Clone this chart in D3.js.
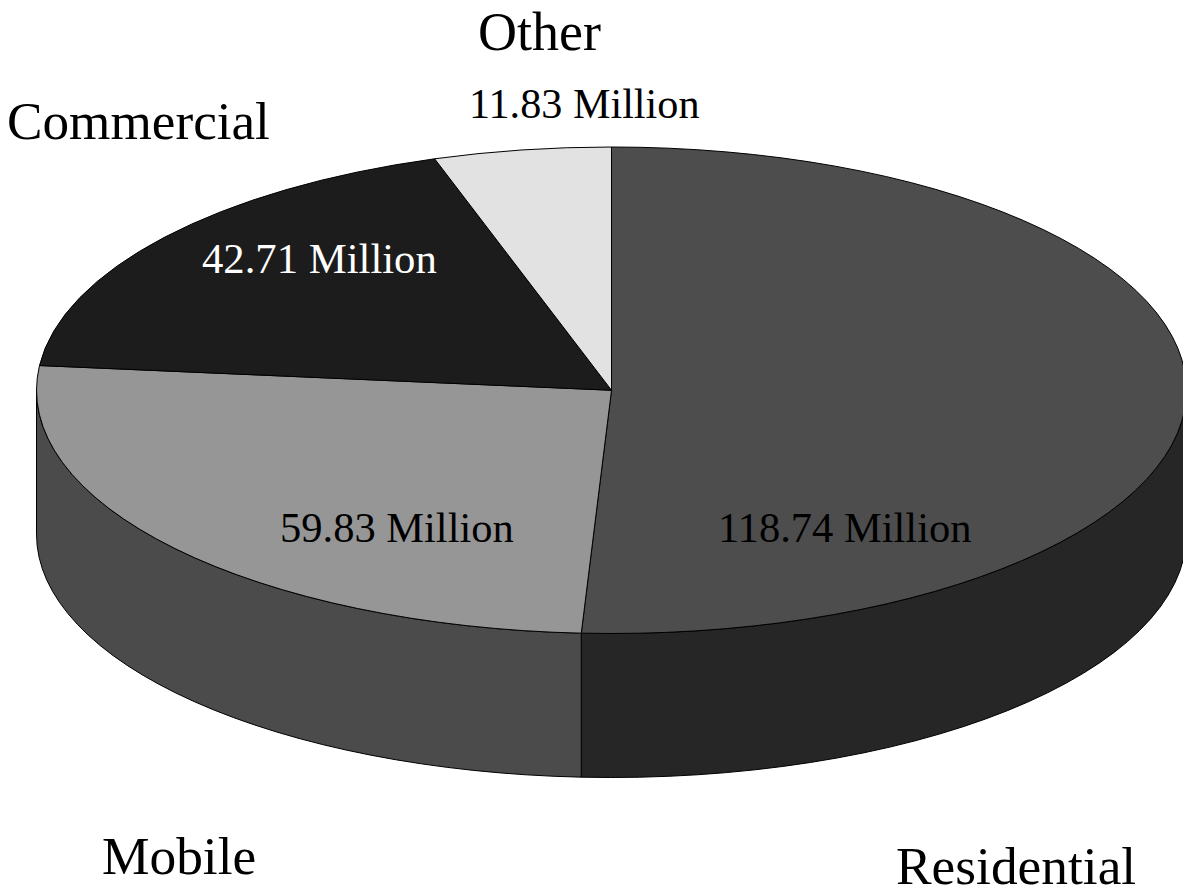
<!DOCTYPE html>
<html>
<head>
<meta charset="utf-8">
<script src="https://cdn.jsdelivr.net/npm/d3@7"></script>
<style>
  html, body { margin: 0; padding: 0; background: #fff; overflow: hidden; }
  text { font-family: "Liberation Serif", serif; }
</style>
</head>
<body>
<svg></svg>
<script>
var categories = ["Residential", "Mobile", "Commercial", "Other"];
// wedge sizes as drawn in the picture, a little off the printed labels because of its 3D projection
var values = [118.5, 60.1, 42.9, 11.6];
var valueLabels = ["118.74 Million", "59.83 Million", "42.71 Million", "11.83 Million"];

var topColors = ["#4d4d4d", "#969696", "#1c1c1c", "#e2e2e2"];
var sideColors = ["#262626", "#4b4b4b", "#1c1c1c", "#e2e2e2"];
var valueColors = ["#000", "#000", "#fff", "#000"];

// text anchors, [left x, baseline y]
var categoryPos = [[896, 884], [102, 874], [7, 139], [478, 50]];
var categorySize = [53.4, 53.4, 53.2, 54];
var valuePos = [[718, 542], [280, 542], [202, 273], [469, 118]];
var valueSize = [42.5, 42.5, 42.7, 42.2];

var svgWidth = 1183, svgHeight = 895;
var depth = 144;

var svg = d3.select("svg")
    .attr("width", svgWidth)
    .attr("height", svgHeight)
    .style("display", "block");

var xScale = d3.scaleLinear().domain([-1, 1]).range([36.5, 1186.5]);
var yScale = d3.scaleLinear().domain([-1, 1]).range([147, 633.5]);
var rx = (xScale(1) - xScale(-1)) / 2;
var ry = (yScale(1) - yScale(-1)) / 2;

var pie = d3.pie().sort(null);
var slices = pie(values);

function px(a) { return xScale(Math.sin(a)); }
function py(a) { return yScale(-Math.cos(a)); }

function topPath(d) {
  var large = d.endAngle - d.startAngle > Math.PI ? 1 : 0;
  return "M" + xScale(0) + "," + yScale(0) +
    "L" + px(d.startAngle) + "," + py(d.startAngle) +
    "A" + rx + "," + ry + " 0 " + large + " 1 " + px(d.endAngle) + "," + py(d.endAngle) + "Z";
}

function sidePath(d) {
  // only the front half of the rim shows
  var a0 = Math.max(d.startAngle, Math.PI / 2);
  var a1 = Math.min(d.endAngle, Math.PI * 3 / 2);
  return "M" + px(a0) + "," + py(a0) +
    "A" + rx + "," + ry + " 0 0 1 " + px(a1) + "," + py(a1) +
    "L" + px(a1) + "," + (py(a1) + depth) +
    "A" + rx + "," + ry + " 0 0 0 " + px(a0) + "," + (py(a0) + depth) + "Z";
}

svg.selectAll("path.side")
    .data(slices.filter(function(d) { return d.endAngle > Math.PI / 2 && d.startAngle < Math.PI * 3 / 2; }))
    .enter()
    .append("path")
    .attr("class", "side")
    .attr("d", sidePath)
    .attr("fill", function(d) { return sideColors[d.index]; })
    .attr("stroke", "#000")
    .attr("stroke-width", 1);

svg.selectAll("path.top")
    .data(slices)
    .enter()
    .append("path")
    .attr("class", "top")
    .attr("d", topPath)
    .attr("fill", function(d) { return topColors[d.index]; })
    .attr("stroke", "#000")
    .attr("stroke-width", 1);

svg.selectAll("text.value")
    .data(valueLabels)
    .enter()
    .append("text")
    .attr("class", "value")
    .attr("x", function(d, i) { return valuePos[i][0]; })
    .attr("y", function(d, i) { return valuePos[i][1]; })
    .attr("font-size", function(d, i) { return valueSize[i]; })
    .attr("fill", function(d, i) { return valueColors[i]; })
    .text(function(d) { return d; });

svg.selectAll("text.category")
    .data(categories)
    .enter()
    .append("text")
    .attr("class", "category")
    .attr("x", function(d, i) { return categoryPos[i][0]; })
    .attr("y", function(d, i) { return categoryPos[i][1]; })
    .attr("font-size", function(d, i) { return categorySize[i]; })
    .attr("fill", "#000")
    .text(function(d) { return d; });
</script>
</body>
</html>
